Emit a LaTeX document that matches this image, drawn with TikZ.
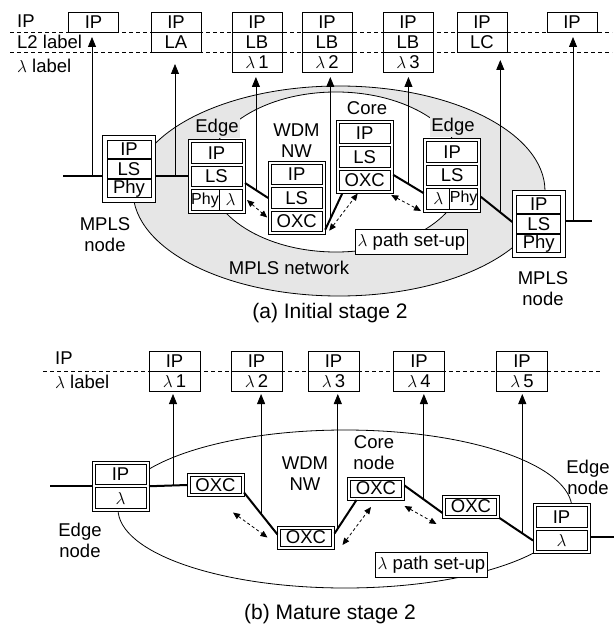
\documentclass[tikz,border=0pt]{standalone}
\usepackage{fontspec}
\setmainfont{Liberation Sans}
\usetikzlibrary{arrows.meta,positioning,calc}
\definecolor{mplsgris}{HTML}{E6E6E6}
\newcommand{\chico}{\fontsize{16pt}{18pt}\selectfont}

\begin{document}
\begin{tikzpicture}[x=1pt,y=-1pt,font=\fontsize{18.5pt}{21pt}\selectfont,
          celda/.style={draw,fill=white,line width=0.8pt,inner sep=0pt,outer sep=0pt,minimum width=51pt,minimum height=20.5pt},
          mcelda/.style={celda,minimum width=44pt,minimum height=18.5pt},
          ocelda/.style={celda,minimum height=17pt},
          fila/.style={celda,minimum width=50pt,minimum height=20pt},
          marco/.style={draw,fill=white,line width=0.8pt,inner sep=0pt,outer sep=0pt,minimum width=57pt,minimum height=73.5pt},
          mmarco/.style={marco,minimum width=53pt,minimum height=66.5pt},
          marcodos/.style={marco,minimum height=50pt},
          omarco/.style={marco,minimum height=23pt},
          nivel/.style={dash pattern=on 4pt off 3pt,line width=0.8pt},
          tronco/.style={line width=2pt},
          sube/.style={-{Triangle[length=10pt,width=8pt]},line width=0.8pt,shorten >=5pt},
          ruta/.style={{Triangle[length=7pt,width=6pt]}-{Triangle[length=7pt,width=6pt]},dash pattern=on 3pt off 2.5pt,line width=0.8pt},
          caja/.style={draw,fill=white,line width=0.8pt,inner sep=2pt,minimum height=25pt},
          rotulo/.style={align=center,inner sep=1pt}]
        \useasboundingbox (0,0) rectangle (614,628);
        % (a) etapa inicial
        \filldraw[fill=mplsgris,line width=0.8pt] (339,191) ellipse [x radius=206,y radius=105];
        \filldraw[fill=white,line width=0.8pt] (336,172) ellipse [x radius=128,y radius=80];
        \coordinate (nA1) at (10,32);
        \coordinate (nA2) at (10,52);
        \draw[nivel] (nA1) -- ++(602,0);
        \draw[nivel] (nA2) -- ++(602,0);
        \node[anchor=west,inner sep=0pt] (tIPa) at (17,21.5) {IP};
        \node[anchor=west,inner sep=0pt] (tL2) at (17,41.5) {L2 label};
        \node[anchor=west,inner sep=0pt] (tlama) at (17,66) {$\lambda$ label};
        % pilas de etiquetas
        \node[fila] (sA1) at (93.5,22) {IP};
        \node[fila] (sA2a) at (176,22) {IP};
        \node[fila,below=0pt of sA2a] (sA2) {LA};
        \node[fila] (sA3a) at (257,22) {IP};
        \node[fila,below=0pt of sA3a] (sA3b) {LB};
        \node[fila,below=0pt of sA3b] (sA3) {$\lambda$\,1};
        \node[fila] (sA4a) at (327,22) {IP};
        \node[fila,below=0pt of sA4a] (sA4b) {LB};
        \node[fila,below=0pt of sA4b] (sA4) {$\lambda$\,2};
        \node[fila] (sA5a) at (408,22) {IP};
        \node[fila,below=0pt of sA5a] (sA5b) {LB};
        \node[fila,below=0pt of sA5b] (sA5) {$\lambda$\,3};
        \node[fila] (sA6a) at (482,22) {IP};
        \node[fila,below=0pt of sA6a] (sA6) {LC};
        \node[fila] (sA7) at (572,22) {IP};
        % nodos MPLS y WDM
        \node[mmarco] (mLf) at (129,168.75) {};
        \node[mcelda,below=4.5pt of mLf.north] (mL1) {IP};
        \node[mcelda,below=1pt of mL1] (mL2) {LS};
        \node[mcelda,below=1pt of mL2] (mL3) {Phy};
        \node[marco] (eLf) at (216.5,176.5) {};
        \node[celda,below=3pt of eLf.north] (eL1) {IP};
        \node[celda,below=3pt of eL1] (eL2) {LS};
        \node[celda,minimum width=28pt,font=\chico,below right=3pt and 0pt of eL2.south west] (eL3a) {Phy};
        \node[celda,minimum width=23pt,right=0pt of eL3a] (eL3b) {$\lambda$};
        \node[marco] (wF) at (296.7,198) {};
        \node[celda,below=3pt of wF.north] (w1) {IP};
        \node[celda,below=3pt of w1] (w2) {LS};
        \node[celda,below=3pt of w2] (w3) {OXC};
        \node[marco] (cF) at (364.7,156.8) {};
        \node[celda,below=3pt of cF.north] (c1) {IP};
        \node[celda,below=3pt of c1] (c2) {LS};
        \node[celda,below=3pt of c2] (c3) {OXC};
        \node[marco] (eRf) at (452.2,175.2) {};
        \node[celda,below=3pt of eRf.north] (eR1) {IP};
        \node[celda,below=3pt of eR1] (eR2) {LS};
        \node[celda,minimum width=23pt,below right=3pt and 0pt of eR2.south west] (eR3a) {$\lambda$};
        \node[celda,minimum width=28pt,font=\chico,right=0pt of eR3a] (eR3b) {Phy};
        \node[mmarco] (mRf) at (538.8,224) {};
        \node[mcelda,below=4.5pt of mRf.north] (mR1) {IP};
        \node[mcelda,below=1pt of mR1] (mR2) {LS};
        \node[mcelda,below=1pt of mR2] (mR3) {Phy};
        \node[rotulo] (mLt) at (105,235) {MPLS\\node};
        \node[rotulo,fill=mplsgris] (eLt) at (217,128) {Edge};
        \node[rotulo,fill=mplsgris] (eRt) at (453,127) {Edge};
        \node[rotulo] (wt) at (296.5,141) {WDM\\NW};
        \node[rotulo] (ct) at (367,108) {Core};
        \node[rotulo] (mRt) at (543,289) {MPLS\\node};
        \node[rotulo] (redt) at (289,268) {MPLS network};
        \node[caja,minimum width=109pt] (rutaA) at (411.5,242) {$\lambda$ path set-up};
        \node[rotulo,font=\fontsize{21pt}{24pt}\selectfont] (capA) at (330,313) {(a) Initial stage 2};
        % enlaces gruesos
        \coordinate (w0) at (63,176.5);
        \coordinate (e0) at (592,220.7);
        \draw[tronco] (w0) -- (w0 -| mLf.west);
        \draw[tronco] (mLf.east |- eL2) -- (eL2 -| eLf.west);
        \coordinate (tA1) at ([yshift=-6.5pt]eLf.east);
        \coordinate (tA2) at ([yshift=5pt]wF.south east);
        \coordinate (tA3) at ([xshift=6pt]cF.south west);
        \coordinate (tA4) at ([yshift=-18pt]cF.east);
        \coordinate (tA5) at ([yshift=-18pt]eRf.west);
        \coordinate (tA6) at ([yshift=-21.5pt]eRf.east);
        \coordinate (tA7) at ([yshift=2pt]mRf.west);
        \draw[tronco] (tA1) -- (wF.west);
        \draw[tronco] (tA2) -- (tA3);
        \draw[tronco] (tA4) -- (tA5);
        \draw[tronco] (tA6) -- (tA7);
        \draw[tronco] ([yshift=3.3pt]mRf.east) -- (e0);
        % etiquetas hacia arriba
        \coordinate (bA1) at (92,176.5);
        \coordinate (bA2) at (175,176.5);
        \coordinate (bA3) at ($(tA1)!.47!(wF.west)$);
        \coordinate (bA4) at ($(tA2)!.3!(tA3)$);
        \coordinate (bA5) at ($(tA4)!.5!(tA5)$);
        \coordinate (bA6) at ($(tA6)!.62!(tA7)$);
        \coordinate (bA7) at (573,220.7);
        \draw[sube] (bA1) -- (bA1 |- sA1.south);
        \draw[sube,shorten >=12pt] (bA2) -- (bA2 |- sA2.south);
        \draw[sube] (bA3) -- (bA3 |- sA3.south);
        \draw[sube] (bA4) -- (bA4 |- sA4.south);
        \draw[sube] (bA5) -- (bA5 |- sA5.south);
        \draw[sube,shorten >=8pt] (bA6) -- (bA6 |- sA6.south);
        \draw[sube] (bA7) -- (bA7 |- sA7.south);
        \draw[ruta] ([xshift=5pt]eL3b.east) -- ([shift={(-4pt,4pt)}]w3.west);
        \draw[ruta] ([shift={(4pt,4pt)}]wF.south east) -- ([xshift=-7pt]cF.south);
        \draw[ruta] ([shift={(-2pt,-1.5pt)}]cF.south east) -- ([shift={(-2.7pt,1pt)}]eRf.south west);
        % (b) etapa madura
        \draw[line width=0.8pt] (345,509) ellipse [x radius=227,y radius=79];
        \coordinate (nB1) at (43,371);
        \draw[nivel] (nB1) -- ++(559,0);
        \node[anchor=west,inner sep=0pt] (tIPb) at (55,358) {IP};
        \node[anchor=west,inner sep=0pt] (tlamb) at (55,382) {$\lambda$ label};
        \node[fila,minimum width=51pt] (sB1a) at (174.5,361) {IP};
        \node[fila,minimum width=51pt,below=0pt of sB1a] (sB1) {$\lambda$\,1};
        \node[fila,minimum width=51pt] (sB2a) at (256.5,361) {IP};
        \node[fila,minimum width=51pt,below=0pt of sB2a] (sB2) {$\lambda$\,2};
        \node[fila,minimum width=51pt] (sB3a) at (333.5,361) {IP};
        \node[fila,minimum width=51pt,below=0pt of sB3a] (sB3) {$\lambda$\,3};
        \node[fila,minimum width=51pt] (sB4a) at (419,361) {IP};
        \node[fila,minimum width=51pt,below=0pt of sB4a] (sB4) {$\lambda$\,4};
        \node[fila,minimum width=51pt] (sB5a) at (522,361) {IP};
        \node[fila,minimum width=51pt,below=0pt of sB5a] (sB5) {$\lambda$\,5};
        \node[marcodos] (eLbf) at (120.5,486.25) {};
        \node[celda,below=3pt of eLbf.north] (eLb1) {IP};
        \node[celda,below=3pt of eLb1] (eLb2) {$\lambda$};
        \node[omarco] (o1F) at (215.5,485) {};
        \node[ocelda] (o1) at (o1F) {OXC};
        \node[omarco] (o2F) at (306,537.5) {};
        \node[ocelda] (o2) at (o2F) {OXC};
        \node[omarco] (o3F) at (376,488.5) {};
        \node[ocelda] (o3) at (o3F) {OXC};
        \node[omarco] (o4F) at (471,506.5) {};
        \node[ocelda] (o4) at (o4F) {OXC};
        \node[marcodos] (eRbf) at (561.5,528.75) {};
        \node[celda,below=3pt of eRbf.north] (eRb1) {IP};
        \node[celda,below=3pt of eRb1] (eRb2) {$\lambda$};
        \node[rotulo] (wtb) at (305,474) {WDM\\NW};
        \node[rotulo] (ctb) at (374,453) {Core\\node};
        \node[rotulo] (eLtb) at (80,540) {Edge\\node};
        \node[rotulo] (eRtb) at (588,477) {Edge\\node};
        \node[caja,minimum width=111pt] (rutaB) at (431.5,565) {$\lambda$ path set-up};
        \node[rotulo,font=\fontsize{21pt}{24pt}\selectfont] (capB) at (330,614) {(b) Mature stage 2};
        \coordinate (w1) at (50,486.25);
        \coordinate (e1) at (614,537);
        \draw[tronco] (w1) -- (eLbf.west);
        \draw[tronco] (eLbf.east) -- (o1F.west);
        \draw[tronco] ([yshift=-8.25pt]eRbf.east) -- (e1);
        \coordinate (tB1) at ([yshift=4pt]o1F.south east);
        \coordinate (tB2) at ([yshift=3pt]o2F.west);
        \coordinate (tB3) at ([yshift=4pt]o2F.east);
        \coordinate (tB4) at ([xshift=9pt]o3F.south west);
        \coordinate (tB5) at ([yshift=3pt]o3F.east);
        \coordinate (tB6) at ([yshift=5pt]o4F.south west);
        \coordinate (tB7) at (eRbf.west |- eRb2);
        \draw[tronco] (tB1) -- (tB2);
        \draw[tronco] (tB3) -- (tB4);
        \draw[tronco] (tB5) -- (tB6);
        \draw[tronco] (o4F.south east) -- (tB7);
        \coordinate (bB1) at (173,486);
        \coordinate (bB2) at ($(tB1)!.51!(tB2)$);
        \coordinate (bB3) at ($(tB3)!.15!(tB4)$);
        \coordinate (bB4) at ($(tB5)!.51!(tB6)$);
        \coordinate (bB5) at ($(o4F.south east)!.68!(tB7)$);
        \draw[sube,shorten >=3pt] (bB1) -- (bB1 |- sB1.south);
        \draw[sube,shorten >=3pt] (bB2) -- (bB2 |- sB2.south);
        \draw[sube,shorten >=3pt] (bB3) -- (bB3 |- sB3.south);
        \draw[sube,shorten >=3pt] (bB4) -- (bB4 |- sB4.south);
        \draw[sube,shorten >=3pt] (bB5) -- (bB5 |- sB5.south);
        \draw[ruta] ([shift={(-11pt,-16pt)}]o1F.south east) -- ([xshift=-10pt]o2F.west);
        \draw[ruta] ([shift={(8pt,-7.5pt)}]o2F.east) -- ([shift={(-5pt,-7pt)}]o3F.south);
        \draw[ruta] ([yshift=-6pt]o3F.south east) -- ([shift={(-6pt,-6pt)}]o4F.south west);
      \end{tikzpicture}
\end{document}
